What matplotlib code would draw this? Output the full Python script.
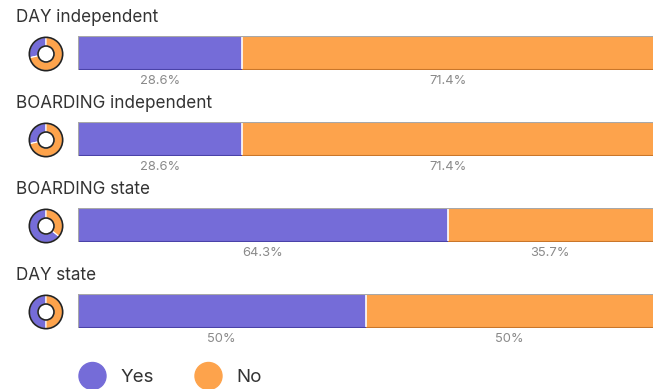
import matplotlib
matplotlib.use("Agg")
import matplotlib.pyplot as plt
from matplotlib.patches import Circle

categories = ["DAY independent", "BOARDING independent", "BOARDING state", "DAY state"]
yes_vals = [28.6, 28.6, 64.3, 50.0]
no_vals = [71.4, 71.4, 35.7, 50.0]
yes_labels = ["28.6%", "28.6%", "64.3%", "50%"]
no_labels = ["71.4%", "71.4%", "35.7%", "50%"]
series_names = ["Yes", "No"]

PURPLE = "#756cd8"
ORANGE = "#fda34c"
PURPLE_D = "#4a42a8"
ORANGE_D = "#c9762a"
W, H = 670, 389

plt.rcParams['font.family'] = ['Inter', 'DejaVu Sans']
fig = plt.figure(figsize=(W / 100, H / 100), dpi=100)

def fx(x):
    return x / W

def fy(y):
    return 1 - y / H

for i, cat in enumerate(categories):
    top = 36 + 86 * i
    bot = top + 34
    # title
    fig.text(fx(16), fy(top - 19), cat, fontsize=12.3, color="#333333", va="center", ha="left")
    # bar axis
    ax = fig.add_axes([fx(78), fy(bot), fx(575), 34 / H])
    y, n = yes_vals[i], no_vals[i]
    ax.barh(0, y, left=0, height=1, color=PURPLE, edgecolor="none")
    ax.barh(0, n, left=y, height=1, color=ORANGE, edgecolor="none")
    ax.set_xlim(0, 100)
    ax.set_ylim(-0.5, 0.5)
    ax.axvline(y, color="white", lw=1.2)
    ax.plot([0, 100], [0.49, 0.49], color="#a8a8a8", lw=1.5, solid_capstyle="butt")
    ax.plot([0, y], [-0.49, -0.49], color=PURPLE_D, lw=1.5, solid_capstyle="butt")
    ax.plot([y, 100], [-0.49, -0.49], color=ORANGE_D, lw=1.5, solid_capstyle="butt")
    ax.plot([0, 0], [-0.5, 0.5], color="#a8a8a8", lw=1.5)
    ax.axis("off")
    # labels under segments
    fig.text(fx(78 + 575 * y / 200), fy(bot + 11.5), yes_labels[i], fontsize=9.3,
             color="#8a8a8a", ha="center", va="center")
    fig.text(fx(78 + 575 * (y + n / 2) / 100), fy(bot + 11.5), no_labels[i], fontsize=9.3,
             color="#8a8a8a", ha="center", va="center")
    # donut
    cy = (top + bot) / 2 + 1
    pax = fig.add_axes([fx(28), fy(cy + 18), fx(36), 36 / H])
    pax.pie([y, n], colors=[PURPLE, ORANGE], startangle=90, counterclock=True,
            radius=1.0, wedgeprops=dict(width=0.52, edgecolor="white", linewidth=0.8))
    pax.add_patch(Circle((0, 0), 1.0, fill=False, edgecolor="#222222", lw=1.2))
    pax.add_patch(Circle((0, 0), 0.48, fill=False, edgecolor="#222222", lw=1.2))
    pax.set_xlim(-1.08, 1.08)
    pax.set_ylim(-1.08, 1.08)
    pax.set_aspect("equal")
    pax.axis("off")

# legend
lax = fig.add_axes([0, 0, 1, 1])
lax.set_xlim(0, W)
lax.set_ylim(H, 0)
lax.axis("off")
for name, color, cx, tx in zip(series_names, [PURPLE, ORANGE], [92.5, 208.5], [121, 236]):
    lax.add_patch(Circle((cx, 376), 13.5, color=color))
    lax.text(tx, 377, name, fontsize=13.5, color="#333333", va="center", ha="left")

fig.savefig("out.png", dpi=100)
